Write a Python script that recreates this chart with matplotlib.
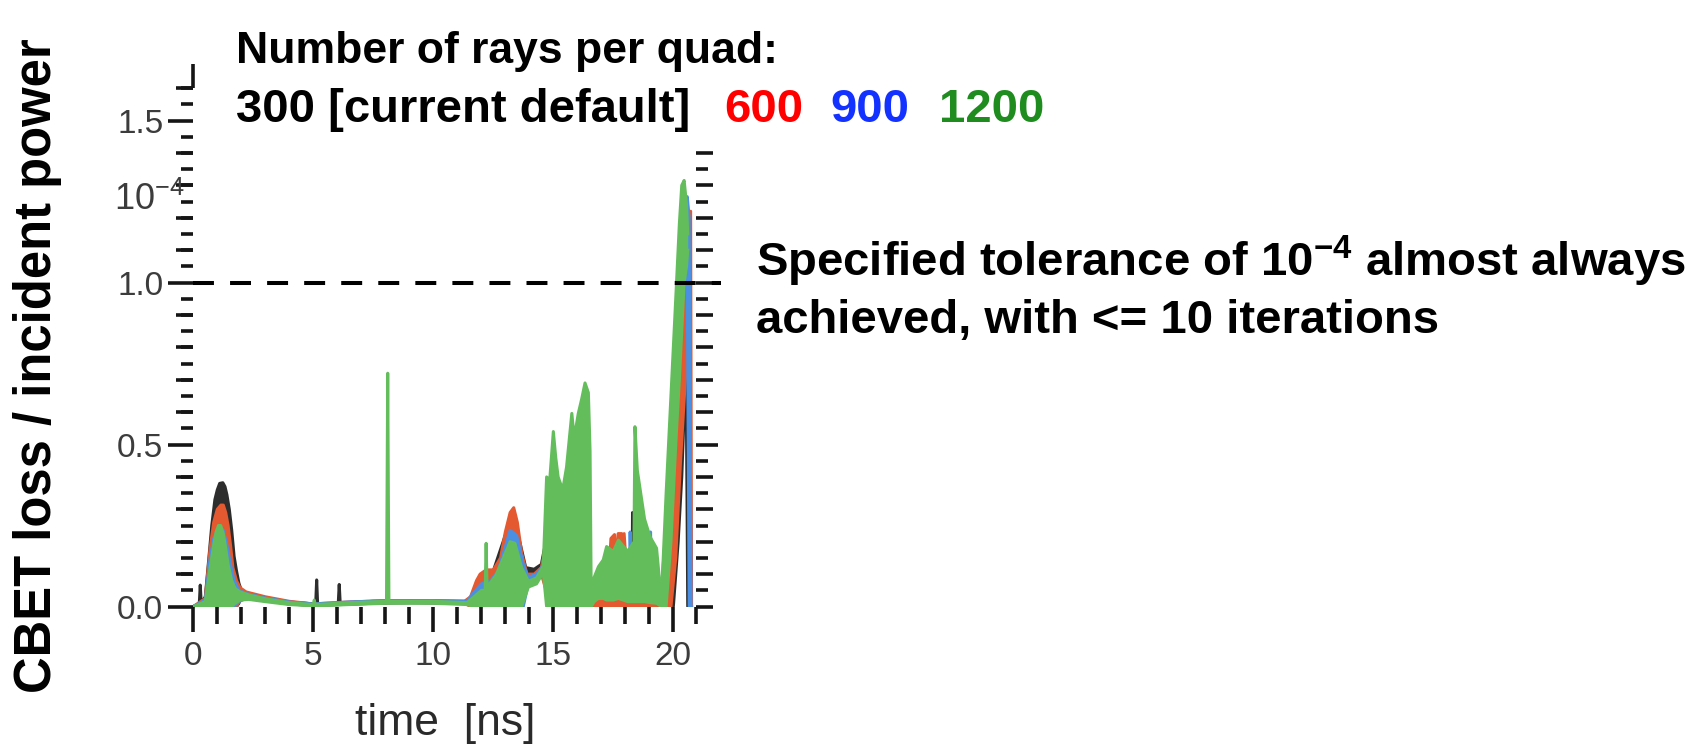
import matplotlib
matplotlib.use("Agg")
import matplotlib.pyplot as plt
import numpy as np
from matplotlib.ticker import FixedLocator, MultipleLocator

plt.rcParams["font.family"] = ["Liberation Sans", "DejaVu Sans"]
plt.rcParams["mathtext.fontset"] = "custom"
plt.rcParams["mathtext.rm"] = "Liberation Sans"
plt.rcParams["mathtext.bf"] = "Liberation Sans:bold"

# CBET loss / incident power vs time for each ray count.
# Rows: time [ns], lower edge, upper edge of the (rapidly oscillating) trace.
rays_300 = np.array([
    [0.00, 0.000, 0.000], [0.25, 0.000, 0.008], [0.29, 0.000, 0.066],
    [0.33, 0.000, 0.010], [0.50, 0.000, 0.030], [0.65, 0.000, 0.150],
    [0.77, 0.000, 0.250], [0.90, 0.000, 0.330], [1.00, 0.000, 0.360],
    [1.10, 0.000, 0.380], [1.23, 0.000, 0.382], [1.32, 0.000, 0.370],
    [1.40, 0.000, 0.345], [1.50, 0.000, 0.300], [1.60, 0.000, 0.236],
    [1.70, 0.000, 0.155], [1.80, 0.000, 0.110], [1.90, 0.010, 0.072],
    [2.00, 0.030, 0.050], [2.20, 0.028, 0.038], [2.90, 0.020, 0.028],
    [4.00, 0.008, 0.014], [5.00, 0.004, 0.008], [5.10, 0.004, 0.008],
    [5.14, 0.004, 0.082], [5.18, 0.004, 0.008], [6.04, 0.006, 0.010],
    [6.08, 0.006, 0.068], [6.12, 0.006, 0.010], [7.50, 0.010, 0.016],
    [9.00, 0.012, 0.018], [11.00, 0.010, 0.016], [11.50, 0.008, 0.016],
    [11.70, 0.000, 0.040], [12.00, 0.000, 0.080], [12.50, 0.000, 0.110],
    [13.00, 0.000, 0.220], [13.30, 0.000, 0.270], [13.60, 0.000, 0.200],
    [13.85, 0.080, 0.120], [14.20, 0.095, 0.115], [14.50, 0.110, 0.130],
    [14.90, 0.000, 0.280], [15.10, 0.000, 0.350], [15.30, 0.000, 0.250],
    [15.60, 0.000, 0.130], [15.90, 0.000, 0.050], [16.10, 0.000, 0.000],
    [16.70, 0.000, 0.020], [16.90, 0.000, 0.060], [17.20, 0.000, 0.050],
    [17.50, 0.000, 0.020], [18.00, 0.000, 0.050], [18.28, 0.000, 0.060],
    [18.30, 0.000, 0.290], [18.34, 0.000, 0.060], [19.00, 0.000, 0.030],
    [19.50, 0.000, 0.020], [19.80, 0.000, 0.080], [20.00, 0.000, 0.250],
    [20.20, 0.200, 0.500], [20.35, 0.400, 0.700], [20.45, 0.600, 0.900],
    [20.50, 0.700, 1.000], [20.55, 0.550, 0.850], [20.60, 0.000, 0.600],
    [20.63, 0.000, 0.000],
])

rays_600 = np.array([
    [0.00, 0.000, 0.000], [0.50, 0.000, 0.025], [0.70, 0.000, 0.180],
    [0.85, 0.000, 0.260], [1.00, 0.000, 0.300], [1.15, 0.000, 0.313],
    [1.25, 0.000, 0.313], [1.35, 0.000, 0.290], [1.45, 0.000, 0.250],
    [1.55, 0.000, 0.190], [1.65, 0.000, 0.120], [1.80, 0.000, 0.080],
    [1.95, 0.020, 0.058], [2.20, 0.030, 0.045], [3.00, 0.020, 0.030],
    [4.00, 0.008, 0.016], [5.00, 0.003, 0.008], [6.50, 0.008, 0.014],
    [8.00, 0.012, 0.018], [10.00, 0.012, 0.018], [11.30, 0.010, 0.016],
    [11.55, 0.000, 0.030], [11.80, 0.000, 0.080], [11.95, 0.000, 0.100],
    [12.20, 0.000, 0.113], [12.50, 0.000, 0.113], [12.80, 0.000, 0.150],
    [13.00, 0.000, 0.230], [13.20, 0.000, 0.290], [13.35, 0.000, 0.305],
    [13.50, 0.000, 0.260], [13.68, 0.000, 0.165], [13.90, 0.075, 0.100],
    [14.20, 0.080, 0.100], [14.50, 0.100, 0.120], [14.90, 0.000, 0.270],
    [15.10, 0.000, 0.330], [15.30, 0.000, 0.250], [15.60, 0.000, 0.120],
    [15.90, 0.000, 0.040], [16.10, 0.000, 0.000], [16.70, 0.000, 0.020],
    [17.00, 0.000, 0.030], [17.30, 0.000, 0.080], [17.40, 0.000, 0.210],
    [17.55, 0.000, 0.222], [17.62, 0.000, 0.120], [17.70, 0.000, 0.225],
    [17.85, 0.000, 0.225], [17.90, 0.000, 0.120], [17.95, 0.000, 0.225],
    [18.05, 0.000, 0.110], [18.50, 0.000, 0.060], [19.00, 0.000, 0.040],
    [19.50, 0.000, 0.050], [19.70, 0.000, 0.150], [19.90, 0.000, 0.350],
    [20.10, 0.150, 0.600], [20.30, 0.450, 0.900], [20.50, 0.700, 1.100],
    [20.65, 0.900, 1.200], [20.72, 0.000, 1.220], [20.76, 0.000, 0.000],
])

rays_900 = np.array([
    [0.00, 0.000, 0.000], [0.50, 0.000, 0.020], [0.70, 0.000, 0.150],
    [0.85, 0.000, 0.210], [1.00, 0.000, 0.235], [1.14, 0.000, 0.245],
    [1.25, 0.000, 0.235], [1.40, 0.000, 0.190], [1.55, 0.000, 0.130],
    [1.70, 0.000, 0.080], [1.90, 0.015, 0.050], [2.20, 0.025, 0.040],
    [3.00, 0.018, 0.026], [4.00, 0.008, 0.014], [5.00, 0.003, 0.008],
    [6.50, 0.008, 0.014], [8.00, 0.012, 0.018], [10.00, 0.012, 0.018],
    [11.40, 0.010, 0.016], [11.65, 0.000, 0.040], [12.00, 0.000, 0.070],
    [12.40, 0.000, 0.080], [12.70, 0.000, 0.110], [12.92, 0.000, 0.165],
    [13.20, 0.000, 0.235], [13.47, 0.000, 0.220], [13.75, 0.000, 0.130],
    [13.95, 0.070, 0.090], [14.30, 0.085, 0.100], [14.60, 0.110, 0.130],
    [14.90, 0.000, 0.280], [15.10, 0.000, 0.330], [15.30, 0.000, 0.240],
    [15.60, 0.000, 0.110], [15.90, 0.000, 0.040], [16.10, 0.000, 0.000],
    [16.70, 0.040, 0.060], [17.00, 0.080, 0.100], [17.50, 0.070, 0.090],
    [18.00, 0.060, 0.080], [18.18, 0.060, 0.080], [18.20, 0.060, 0.230],
    [18.24, 0.060, 0.080], [19.00, 0.060, 0.080], [19.05, 0.060, 0.230],
    [19.10, 0.040, 0.060], [19.50, 0.030, 0.050], [19.70, 0.100, 0.250],
    [19.90, 0.300, 0.450], [20.10, 0.600, 0.800], [20.30, 0.900, 1.100],
    [20.50, 1.050, 1.250], [20.58, 1.000, 1.265], [20.66, 0.000, 1.200],
    [20.74, 0.000, 0.000],
])

rays_1200 = np.array([
    [0.00, 0.000, 0.000], [0.50, 0.000, 0.015], [0.70, 0.000, 0.120],
    [0.85, 0.000, 0.190], [0.95, 0.000, 0.230], [1.05, 0.000, 0.250],
    [1.14, 0.000, 0.250], [1.25, 0.000, 0.225], [1.35, 0.000, 0.180],
    [1.45, 0.000, 0.130], [1.60, 0.000, 0.080], [1.75, 0.010, 0.055],
    [1.95, 0.020, 0.045], [2.30, 0.022, 0.036], [3.00, 0.015, 0.024],
    [4.00, 0.006, 0.012], [5.00, 0.002, 0.006], [5.04, 0.002, 0.020],
    [5.08, 0.002, 0.006], [6.50, 0.006, 0.012], [8.05, 0.010, 0.016],
    [8.10, 0.010, 0.720], [8.15, 0.010, 0.016], [10.00, 0.010, 0.016],
    [11.40, 0.006, 0.012], [11.70, 0.000, 0.030], [12.00, 0.000, 0.050],
    [12.16, 0.000, 0.050], [12.20, 0.000, 0.195], [12.24, 0.000, 0.060],
    [12.60, 0.000, 0.095], [12.92, 0.000, 0.150], [13.20, 0.000, 0.200],
    [13.40, 0.000, 0.195], [13.68, 0.000, 0.120], [13.96, 0.060, 0.078],
    [14.30, 0.070, 0.088], [14.58, 0.105, 0.125], [14.72, 0.000, 0.400],
    [14.85, 0.000, 0.390], [15.00, 0.000, 0.540], [15.10, 0.000, 0.460],
    [15.20, 0.000, 0.400], [15.39, 0.000, 0.360], [15.55, 0.000, 0.430],
    [15.77, 0.000, 0.596], [15.87, 0.000, 0.520], [16.04, 0.000, 0.596],
    [16.18, 0.000, 0.640], [16.32, 0.000, 0.690], [16.46, 0.000, 0.660],
    [16.53, 0.000, 0.480], [16.58, 0.000, 0.020], [16.70, 0.015, 0.090],
    [16.88, 0.025, 0.123], [17.08, 0.025, 0.144], [17.22, 0.020, 0.185],
    [17.50, 0.020, 0.170], [17.71, 0.025, 0.205], [18.10, 0.015, 0.170],
    [18.36, 0.015, 0.200], [18.40, 0.015, 0.555], [18.50, 0.015, 0.420],
    [18.68, 0.015, 0.330], [18.80, 0.015, 0.270], [19.03, 0.012, 0.215],
    [19.30, 0.010, 0.180], [19.50, 0.000, 0.020], [19.70, 0.000, 0.350],
    [19.90, 0.200, 0.650], [20.10, 0.500, 0.950], [20.25, 0.700, 1.180],
    [20.35, 0.850, 1.300], [20.45, 1.000, 1.315], [20.55, 1.050, 1.240],
    [20.60, 1.100, 1.150],
])

series = [rays_300, rays_600, rays_900, rays_1200]
trace_colors = ["#2d2d2d", "#e4592f", "#4b8fe2", "#63bd5b"]
legend_labels = ["300 [current default]", "600", "900", "1200"]
legend_colors = ["black", "#ff0000", "#1432ff", "#1e8c1e"]

tolerance = 1.0
x_major = [0, 5, 10, 15, 20]
y_major = [0.0, 0.5, 1.0, 1.5]
x_max = 20.95
y_max = 1.6

tick_color = "#151515"
label_color = "#3c3c3c"

fig = plt.figure(figsize=(17, 7.45), dpi=100)
ax = fig.add_axes([0.1137, 0.1859, 0.2958, 0.6958])

# each ray count is drawn as a band; later ones sit on top of earlier ones
for i, (data, color) in enumerate(zip(series, trace_colors)):
    t, lo, hi = data[:, 0], data[:, 1], data[:, 2]
    z = 2 + i
    ax.fill_between(t, lo, hi, color=color, lw=0, zorder=z)
    ax.plot(t, hi, color=color, lw=2.2, zorder=z)
    ax.plot(t, lo, color=color, lw=2.2, zorder=z)

# tolerance level
ax.hlines(tolerance, 0, 22, colors="black", lw=2.9,
          linestyles=(0, (5.2, 4.0)), clip_on=False, zorder=10)

ax.set_xlim(0, x_max)
ax.set_ylim(0, y_max)
for s in ax.spines.values():
    s.set_visible(False)

ax.xaxis.set_major_locator(FixedLocator(x_major))
ax.xaxis.set_minor_locator(MultipleLocator(1))
ax.yaxis.set_major_locator(FixedLocator(y_major))
ax.yaxis.set_minor_locator(MultipleLocator(0.05))
ax.set_xticklabels([str(v) for v in x_major])
ax.set_yticklabels([f"{v:.1f}" for v in y_major])
ax.tick_params(which="both", direction="out", width=2.6, color=tick_color,
               labelsize=24, labelcolor=label_color)
ax.tick_params(axis="x", which="major", length=18, pad=7)
ax.tick_params(axis="x", which="minor", length=12)
ax.tick_params(axis="y", which="major", length=18, pad=3.6)
ax.tick_params(axis="y", which="minor", length=8.6)

# medium ticks every 0.1 on the left axis
mid = np.round(np.arange(0.1, y_max + 0.001, 0.1), 2)
mid_left = [v for v in mid if abs(v / 0.5 - round(v / 0.5)) > 1e-6]
sec_l = ax.secondary_yaxis("left")
sec_l.yaxis.set_major_locator(FixedLocator(mid_left))
sec_l.tick_params(length=12, width=2.6, color=tick_color, labelleft=False)

# right-hand ticks, up to 1.4
sec_r = ax.secondary_yaxis("right")
sec_r.yaxis.set_major_locator(FixedLocator([0.5, 1.0]))
sec_r.yaxis.set_minor_locator(FixedLocator(np.round(np.arange(0.05, 1.4, 0.1), 2)))
sec_r.tick_params(which="major", length=16, width=2.6, color=tick_color, labelright=False)
sec_r.tick_params(which="minor", length=8.6, width=2.6, color=tick_color)
mid_right = [v for v in np.round(np.arange(0.0, 1.401, 0.1), 2) if v not in (0.5, 1.0)]
sec_r2 = ax.secondary_yaxis("right")
sec_r2.yaxis.set_major_locator(FixedLocator(mid_right))
sec_r2.tick_params(length=12, width=2.6, color=tick_color, labelright=False)

# axis end ticks
sec_t = ax.secondary_xaxis("top")
sec_t.xaxis.set_major_locator(FixedLocator([0]))
sec_t.tick_params(length=17.5, width=2.6, color=tick_color, labeltop=False)
sec_b = ax.secondary_xaxis("bottom")
sec_b.xaxis.set_major_locator(FixedLocator([x_max]))
sec_b.tick_params(length=12, width=2.6, color=tick_color, labelbottom=False)

for sec in (sec_l, sec_r, sec_r2, sec_t, sec_b):
    for s in sec.spines.values():
        s.set_visible(False)

ax.annotate(r"$\mathrm{10^{-4}}$", xy=(0, 1.255), xycoords=("axes fraction", "data"),
            xytext=(-6, 0), textcoords="offset points", ha="right", va="center",
            fontsize=26, color=label_color)

ax.set_xlabel("time  [ns]", fontsize=32, color="#2a2a2a")
ax.xaxis.set_label_coords(0.5, -0.248)
ax.xaxis.label.set_va("baseline")

fig.text(38 / 1700, 1 - 366 / 745, "CBET loss / incident power", rotation=90,
         fontsize=36.5, fontweight="bold", ha="center", va="center")

# ray-count key
fig.text(236 / 1700, 1 - 63 / 745, "Number of rays per quad:", fontsize=32,
         fontweight="bold", va="baseline")
key_x = [236, 724, 830, 939]
for x, text, color in zip(key_x, legend_labels, legend_colors):
    fig.text(x / 1700, 1 - 122 / 745, text, fontsize=34, fontweight="bold",
             color=color, va="baseline")

fig.text(756 / 1700, 1 - 276 / 745,
         r"Specified tolerance of 10$^{\mathbf{-4}}$ almost always",
         fontsize=34, fontweight="bold", va="baseline")
fig.text(756 / 1700, 1 - 333 / 745, "achieved, with <= 10 iterations",
         fontsize=34, fontweight="bold", va="baseline")

fig.savefig("out.png", dpi=100)
